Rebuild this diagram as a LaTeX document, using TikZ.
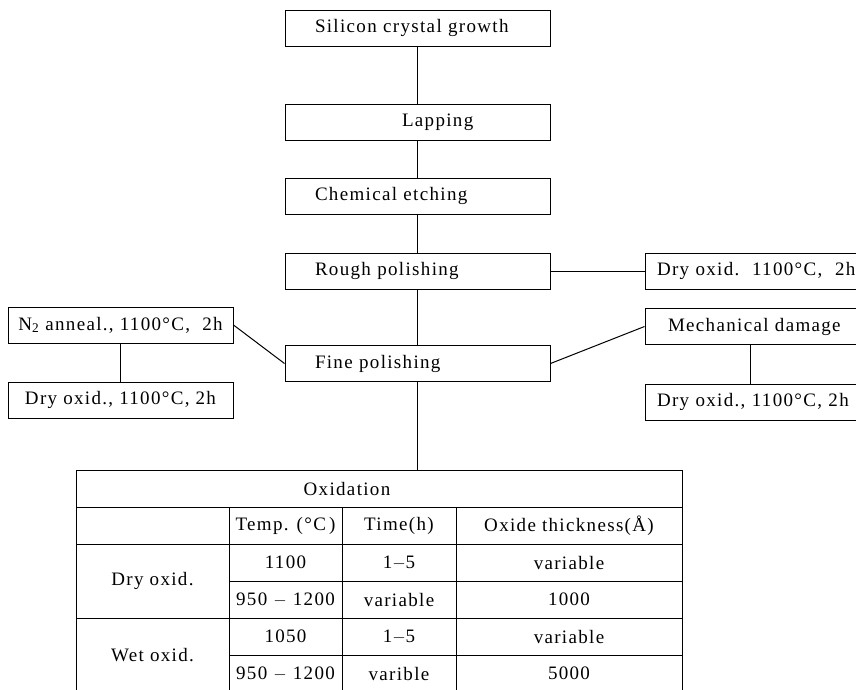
\documentclass[tikz,border=0pt]{standalone}
\usepackage{fontspec}
\setmainfont{Liberation Serif}[LetterSpace=7]
\usetikzlibrary{positioning}

\tikzset{
  lbl/.style={font=\fontsize{19}{22}\selectfont},
  proc/.style={lbl,draw,line width=1pt,minimum height=36pt,inner ysep=0pt,
    text width=205pt,align=left,inner xsep=30pt},
  side/.style={lbl,draw,line width=1pt,minimum height=36pt,inner ysep=0pt,
    minimum width=225pt,inner xsep=0pt,align=center},
  sider/.style={lbl,draw,line width=1pt,minimum height=36pt,inner ysep=0pt,
    text width=201pt,inner xsep=12pt,align=left},
  link/.style={line width=1pt},
  tab/.style={line width=1pt},
  cell/.style={lbl,inner sep=0pt}
}

\begin{document}
\begin{tikzpicture}[x=1pt,y=-1pt]
\clip (0,0) rectangle (856,689);

% main process chain
\node[proc] (GROW)  at (417.5,28)    {Silicon crystal growth};
\node[proc] (LAP)   at (417.5,122)   {\hspace*{87pt}Lapping};
\node[proc] (ETCH)  at (417.5,196)   {Chemical etching};
\node[proc] (ROUGH) at (417.5,271)   {Rough polishing};
\node[proc] (FINE)  at (417.5,363.5) {Fine polishing};

% left branch
\node[side] (ANNEAL) at (120.5,325) {N\textsubscript{2} anneal., 1100°C,~~2h};
\node[side] (LDRY)   at (120.5,400) {Dry oxid., 1100°C, 2h};

% right branch
\node[sider] (RDRYA) at (757.5,271)   {Dry oxid.~~1100°C,~~2h};
\node[sider] (MECH)  at (757.5,326.5) {\hspace*{11pt}Mechanical damage};
\node[sider] (RDRYB) at (757.5,402)   {Dry oxid., 1100°C, 2h};

\coordinate (TABTOP) at (415,470);

\path[link] (GROW)  edge (LAP)
            (LAP)   edge (ETCH)
            (ETCH)  edge (ROUGH)
            (ROUGH) edge (FINE)
            (ROUGH.east) edge (RDRYA.west)
            (ANNEAL.east) edge (FINE.west)
            (ANNEAL) edge (LDRY)
            (FINE.east) edge (MECH.west)
            (FINE.south) edge (FINE.south |- TABTOP);
\draw[link] ([xshift=-7.5pt]MECH.south) -- ([xshift=-7.5pt]RDRYB.north);

% oxidation table
\draw[tab] (76,470) rectangle (682,700);
\draw[tab] (76,507) -- (682,507) (76,544) -- (682,544) (76,618) -- (682,618)
           (229,581) -- (682,581) (229,655) -- (682,655);
\foreach \x in {229,342,456}
  \draw[tab] (\x,507) -- (\x,700);

\node[cell] (OXID) at (347,488.5) {Oxidation};
\node[cell] (HTEMP)  at (285.5,525.5) {Temp. (°C\,)};
\node[cell] (HTIME)  at (399,525.5)   {Time(h)};
\node[cell] (HTHICK) at (569,525.5)   {Oxide thickness(Å)};
\node[cell] (DRY) at (152.5,581) {Dry oxid.};
\node[cell] (WET) at (152.5,655) {Wet oxid.};
\node[cell] at (285.5,562.5) {1100};
\node[cell] at (399,562.5)   {1$-$5};
\node[cell] at (569,562.5)   {variable};
\node[cell] at (285.5,599.5) {950 $-$ 1200};
\node[cell] at (399,599.5)   {variable};
\node[cell] at (569,599.5)   {1000};
\node[cell] at (285.5,636.5) {1050};
\node[cell] at (399,636.5)   {1$-$5};
\node[cell] at (569,636.5)   {variable};
\node[cell] at (285.5,673.5) {950 $-$ 1200};
\node[cell] at (399,673.5)   {varible};
\node[cell] at (569,673.5)   {5000};
\end{tikzpicture}
\end{document}
